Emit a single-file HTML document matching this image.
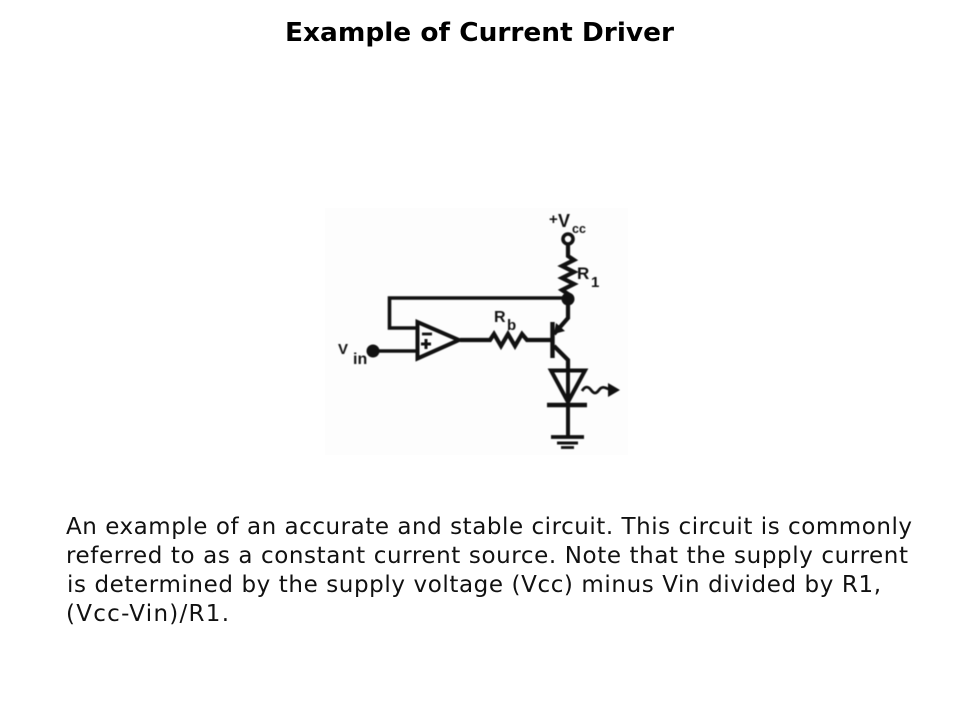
<!DOCTYPE html>
<html lang="en">
<head>
<meta charset="utf-8">
<title>Example of Current Driver</title>
<style>
html,body{margin:0;padding:0;background:#fff;width:960px;height:720px;overflow:hidden}
svg{display:block}
.d{filter:blur(.5px)}
.t{font-family:"DejaVu Sans",sans-serif;font-size:23px;fill:#111}
.l{font-family:"Liberation Sans",sans-serif;font-weight:bold;fill:#111}
</style>
</head>
<body>
<svg width="960" height="720" viewBox="0 0 960 720" xmlns="http://www.w3.org/2000/svg">
<rect width="960" height="720" fill="#fff"/>
<rect x="325" y="208" width="303" height="247" fill="#fdfdfd"/>
<text x="285" y="41" textLength="389" lengthAdjust="spacingAndGlyphs" style="font-family:'DejaVu Sans',sans-serif;font-weight:bold;font-size:25.500px;fill:#000">Example of Current Driver</text>

<g class="d">
<g fill="none" stroke="#111" stroke-width="4" stroke-linejoin="miter" stroke-linecap="butt">
<circle cx="568" cy="239" r="5" stroke-width="3.600"/>
<path d="M568 244V256L574 260L562 266L574 272L562 278L574 284L562 290L568 294V304" stroke-width="4.200"/>
<path d="M568 298H389.500V328H416" stroke-width="3.600"/>
<path d="M417.500 322V358.500L459 340Z" stroke-width="4"/>
<path d="M373 351H416" stroke-width="3.600"/>
<path d="M460 340H490L494 334L501 346L508 334L515 346L522 334L527 340H552" stroke-width="4.200"/>
<path d="M552.500 322V358" stroke-width="4.400"/>
<path d="M568 304V318L554 334" stroke-width="4.200"/>
<path d="M554 346L568 360V371" stroke-width="4.200"/>
<path d="M551 370.500H585L568 402Z" stroke-width="4"/>
<path d="M547 405H587" stroke-width="4.400"/>
<path d="M568 371V437" stroke-width="4"/>
<path d="M551 437H584" stroke-width="3.800"/>
<path d="M557 443H578" stroke-width="3"/>
<path d="M561 447.500H574" stroke-width="2.800"/>
<path d="M582 391C585 386 588 386 591 390S596 394 599 390S604 387 611 390" stroke-width="2.800"/>
<path d="M422 334H432" stroke-width="2.800"/>
<path d="M421 344H431M426 339V349" stroke-width="3"/>
</g>
<circle cx="568" cy="299" r="6.500" fill="#111"/>
<circle cx="373" cy="351" r="6.500" fill="#111"/>
<path d="M554 334L556 323L565 331Z" fill="#111"/>
<path d="M608 383L620 390L608 397Z" fill="#111"/>
<text class="l" x="549" y="224" font-size="15">+</text>
<text class="l" x="558" y="227" font-size="18">V</text>
<text class="l" x="572" y="233" font-size="12.500">cc</text>
<text class="l" x="577" y="279" font-size="17">R</text>
<text class="l" x="591" y="287" font-size="15">1</text>
<text class="l" x="494" y="322" font-size="16">R</text>
<text class="l" x="507" y="330" font-size="15">b</text>
<text class="l" x="338" y="354" font-size="15">V</text>
<text class="l" x="353" y="364" font-size="16">in</text>
</g>

<text class="t" x="66" y="534" textLength="846">An example of an accurate and stable circuit. This circuit is commonly</text>
<text class="t" x="66" y="563" textLength="842">referred to as a constant current source. Note that the supply current</text>
<text class="t" x="67" y="592" textLength="814">is determined by the supply voltage (Vcc) minus Vin divided by R1,</text>
<text class="t" x="66" y="621" textLength="163">(Vcc-Vin)/R1.</text>
</svg>
</body>
</html>
